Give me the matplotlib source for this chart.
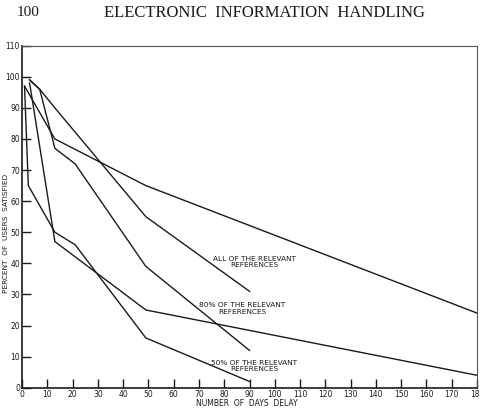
import matplotlib.pyplot as plt

# curves (days delay, percent of users satisfied)
all_x = [3, 7, 13, 49, 90]
all_y = [99, 96, 90, 55, 31]
p80_x = [3, 7, 13, 21, 49, 90]
p80_y = [99, 96, 77, 72, 39, 12]
p50_x = [1, 2.5, 13, 21, 49, 90]
p50_y = [97, 65, 50, 46, 16, 2]
long_hi_x = [1, 13, 49, 180]
long_hi_y = [97, 80, 65, 24]
long_lo_x = [3, 13, 49, 180]
long_lo_y = [98, 47, 25, 4]

x_ticks = list(range(0, 181, 10))
y_ticks = list(range(0, 111, 10))

labels = ['ALL OF THE RELEVANT\nREFERENCES',
          '80% OF THE RELEVANT\nREFERENCES',
          '50% OF THE RELEVANT\nREFERENCES']
label_pos = [(92, 40.5), (87, 25.5), (92, 7)]

ink = '#1a1a1a'

fig = plt.figure(figsize=(4.81, 4.09), dpi=100)
ax = fig.add_axes([22 / 481, 1 - 387.7 / 409, 455 / 481, (387.7 - 45.7) / 409])

for xs, ys in [(all_x, all_y), (p80_x, p80_y), (p50_x, p50_y),
               (long_hi_x, long_hi_y), (long_lo_x, long_lo_y)]:
    ax.plot(xs, ys, color=ink, lw=1.0, solid_joinstyle='miter')

for txt, (tx, ty) in zip(labels, label_pos):
    ax.text(tx, ty, txt, ha='center', va='center', fontsize=5.3,
            color=ink, linespacing=1.1)

ax.set_xlim(0, 180)
ax.set_ylim(0, 110)
ax.set_xticks(x_ticks)
ax.set_yticks(y_ticks)
ax.tick_params(direction='in', length=6.5, width=1.0, color=ink,
               labelsize=5.5, labelcolor=ink, pad=1.5)
for s in ['left', 'bottom']:
    ax.spines[s].set_linewidth(1.2)
    ax.spines[s].set_color(ink)
for s in ['top', 'right']:
    ax.spines[s].set_linewidth(0.8)
    ax.spines[s].set_color('#555555')

ax.set_xlabel('NUMBER  OF  DAYS  DELAY', fontsize=5.5, color=ink)
ax.xaxis.set_label_coords(0.495, -0.034)
ax.set_ylabel('PERCENT  OF  USERS  SATISFIED', fontsize=5.3, color=ink)
ax.yaxis.set_label_coords(-0.0285, 0.45)

fig.text(28.5 / 481, 1 - 13 / 409, '100', ha='center', va='center',
         fontsize=11, family='Liberation Serif', color=ink)
fig.text(264.5 / 481, 1 - 13 / 409, 'ELECTRONIC  INFORMATION  HANDLING',
         ha='center', va='center', fontsize=12, family='Liberation Serif',
         color=ink)

fig.savefig('out.png', dpi=100)
